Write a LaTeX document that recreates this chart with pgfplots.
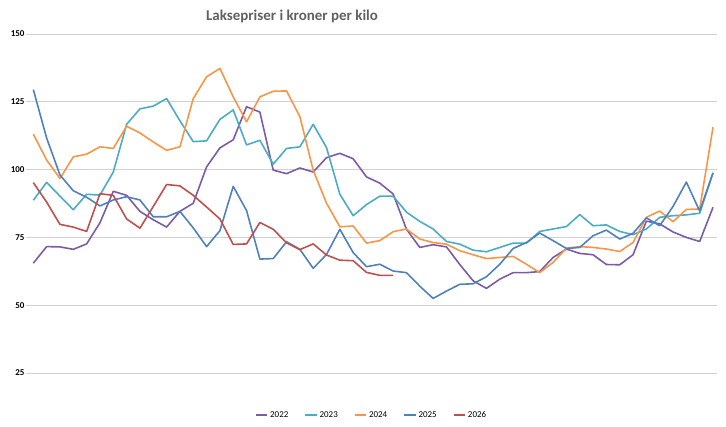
\documentclass[border=0pt]{standalone}
\usepackage{pgfplots}
\pgfplotsset{compat=1.18}
\usepackage{fontspec}
\setmainfont{Carlito}
\definecolor{c22}{HTML}{7D5BA6}
\definecolor{c23}{HTML}{4BACC6}
\definecolor{c24}{HTML}{F79646}
\definecolor{c25}{HTML}{4F81BD}
\definecolor{c26}{HTML}{C0504D}
\begin{document}
\begin{tikzpicture}
\path[use as bounding box] (-26bp,-54bp) rectangle (700bp,373bp);
\begin{axis}[scale only axis, width=691bp, height=339bp,
 xmin=-0.55, xmax=51.3, ymin=25, ymax=150,
 ytick={25,50,...,150}, xtick=\empty,
 ymajorgrids, grid style={gray!35, line width=0.8pt},
 axis line style={draw=none}, major tick length=0pt,
 yticklabel style={font=\small\bfseries, xshift=2bp},
 /pgf/number format/assume math mode=true,
 title={\textbf{Laksepriser i kroner per kilo}},
 title style={font=\fontsize{15}{18}\selectfont, text=gray!75!black, at={(0.385,1)}, yshift=2bp},
 legend style={at={(0.5,-0.1)}, anchor=north, draw=none, legend columns=-1, font=\small,
  /tikz/every even column/.append style={column sep=14pt}},
 legend image code/.code={\draw[#1, line width=2pt] (0cm,0cm) -- (0.4cm,0cm);},
 every axis plot/.append style={line width=1.6pt, line join=round}]
\addplot[c22] table[x expr=\coordindex, y index=0] {
65.5
71.6
71.5
70.6
72.6
80.4
92
90.5
84.6
81.5
78.8
84.6
87.6
101
108
111
123.2
121.2
99.8
98.5
100.6
99.1
104.4
106
104
97.3
95
91
78
71.3
72.3
71.5
65
59
56.2
59.6
62
62
62.4
67.6
70.7
69.1
68.6
65
64.9
68.6
81
80
77
75
73.5
86.1
};
\addplot[c23] table[x expr=\coordindex, y index=0] {
88.7
95.3
90.2
85.2
90.9
90.6
99.1
116.7
122.4
123.4
126.2
118
110.3
110.6
118.5
122
109.1
110.8
102
107.8
108.4
116.7
108.1
90.9
83
87.1
90.2
90.2
84.3
80.9
78.1
73.5
72.5
70.3
69.7
71.3
72.9
72.9
77.2
78.1
79
83.4
79.3
79.6
77.2
76
78.1
82.4
83
83.3
83.9
98.8
};
\addplot[c24] table[x expr=\coordindex, y index=0] {
113.1
103.5
96.7
104.7
105.7
108.4
107.8
116
113.5
110.2
107.1
108.4
126.2
134.2
137.3
126.8
117.6
126.8
128.9
129
119.5
99.8
87.6
78.9
79.2
72.9
73.8
77.1
78.1
74.4
73.1
72.5
70.1
68.6
67.2
67.6
68
65.1
62
65.8
71
71.6
71.3
70.7
69.8
73.1
82.4
84.7
80.8
85.3
85.5
115.6
};
\addplot[c25] table[x expr=\coordindex, y index=0] {
129.5
111.6
98
92.2
89.8
86.6
88.8
90
88.8
82.6
82.6
84.6
78.5
71.6
77.5
93.8
84.9
67
67.2
73.4
70.6
63.6
68.7
78
69.4
64.2
65.1
62.6
62
57
52.5
55.2
57.7
57.9
60.5
65.1
70.9
73.1
76.6
73.8
70.9
71.3
75.6
77.7
74.4
76.5
82.2
79.3
86.4
95.4
84.7
98.8
};
\addplot[c26] table[x expr=\coordindex, y index=0] {
95.2
88
79.8
78.8
77.2
91.1
90.5
81.8
78.4
86.4
94.5
94
90.5
86.2
81.8
72.4
72.6
80.5
78
73
70.5
72.6
68.5
66.6
66.4
62.1
61
61
};
\legend{2022,2023,2024,2025,2026}
\end{axis}
\end{tikzpicture}
\end{document}
